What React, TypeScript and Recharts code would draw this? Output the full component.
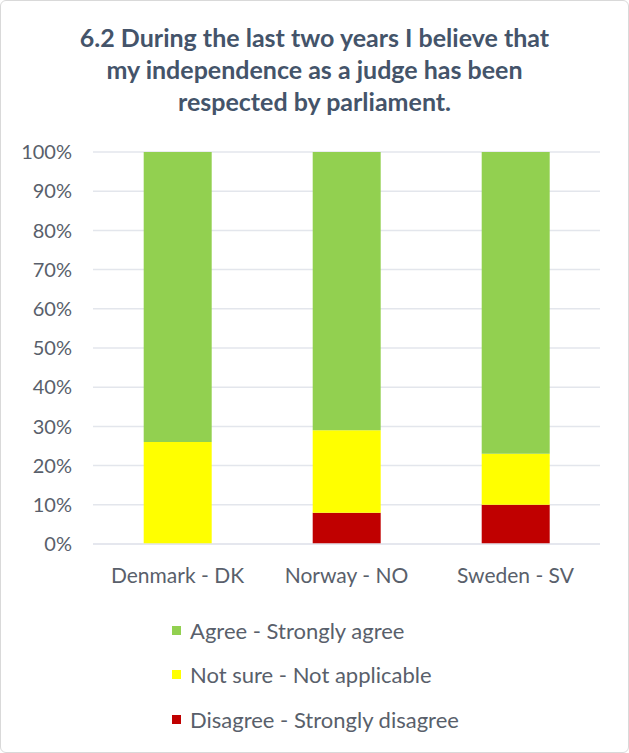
import * as React from "react";
import { BarChart, Bar, XAxis, YAxis, CartesianGrid, Legend } from "recharts";

// values (percent of respondents)
const countries = ["Denmark - DK", "Norway - NO", "Sweden - SV"];
const agree = [74, 71, 77];
const notSure = [26, 21, 13];
const disagree = [0, 8, 10];
const yTicks = [0, 10, 20, 30, 40, 50, 60, 70, 80, 90, 100];

const TITLE = [
  "6.2 During the last two years I believe that",
  "my independence as a judge has been",
  "respected by parliament.",
];

const COLORS = {
  agree: "#92D050",
  notSure: "#FFFF00",
  disagree: "#C00000",
  text: "#595F6B",
  title: "#44546A",
  grid: "#E3E6EC",
};

const FONT = "Lato, 'Open Sans', sans-serif";

const data = countries.map((name, i) => ({
  name,
  agree: agree[i],
  notSure: notSure[i],
  disagree: disagree[i],
}));

function LegendList({ payload }: any) {
  // Excel lists the stack top-down, so keep that order
  const order = ["agree", "notSure", "disagree"];
  const items = [...(payload || [])].sort(
    (a: any, b: any) => order.indexOf(a.dataKey) - order.indexOf(b.dataKey)
  );
  return (
    <div style={{ fontFamily: FONT }}>
      {items.map((it: any) => (
        <div
          key={it.dataKey}
          style={{ display: "flex", alignItems: "center", height: 44.5, fontSize: 22, color: COLORS.text }}
        >
          <span style={{ width: 9, height: 9, background: it.color, marginRight: 9, display: "inline-block" }} />
          {it.value}
        </div>
      ))}
    </div>
  );
}

export default function App() {
  return (
    <div style={{ position: "relative", width: 629, height: 753, background: "#fff" }}>
      <style>{`body{margin:0}`}</style>
      <div
        style={{
          position: "absolute",
          top: 21,
          left: 0,
          width: 629,
          textAlign: "center",
          fontFamily: FONT,
          fontWeight: 700,
          fontSize: 25,
          lineHeight: "32px",
          color: COLORS.title,
        }}
      >
        {TITLE.map((t) => (
          <div key={t}>{t}</div>
        ))}
      </div>
      <div style={{ position: "absolute", top: 0, left: 0 }}>
        <BarChart
          width={629}
          height={753}
          data={data}
          barCategoryGap="30%"
          margin={{ top: 152, right: 29, left: 0, bottom: 179 }}
        >
          <CartesianGrid vertical={false} stroke={COLORS.grid} strokeWidth={1.5} />
          <XAxis
            dataKey="name"
            axisLine={{ stroke: COLORS.grid, strokeWidth: 1.5 }}
            tickLine={false}
            tickSize={0}
            tickMargin={24}
            height={30}
            tick={{ fontSize: 21, fill: COLORS.text, fontFamily: FONT }}
          />
          <YAxis
            width={93}
            domain={[0, 100]}
            ticks={yTicks}
            tickFormatter={(v) => `${v}%`}
            axisLine={false}
            tickLine={false}
            tickSize={0}
            tickMargin={21}
            tick={{ fontSize: 20, fill: COLORS.text, fontFamily: FONT }}
          />
          <Legend
            layout="vertical"
            align="center"
            verticalAlign="middle"
            wrapperStyle={{ top: 608, left: 172, width: 320 }}
            content={<LegendList />}
          />
          <Bar dataKey="disagree" name="Disagree - Strongly disagree" stackId="a" fill={COLORS.disagree} isAnimationActive={false} />
          <Bar dataKey="notSure" name="Not sure - Not applicable" stackId="a" fill={COLORS.notSure} isAnimationActive={false} />
          <Bar dataKey="agree" name="Agree - Strongly agree" stackId="a" fill={COLORS.agree} isAnimationActive={false} />
        </BarChart>
      </div>
      <div
        style={{
          position: "absolute",
          inset: 0,
          border: "1.5px solid #D9D9D9",
          borderRadius: 6,
          pointerEvents: "none",
        }}
      />
    </div>
  );
}
